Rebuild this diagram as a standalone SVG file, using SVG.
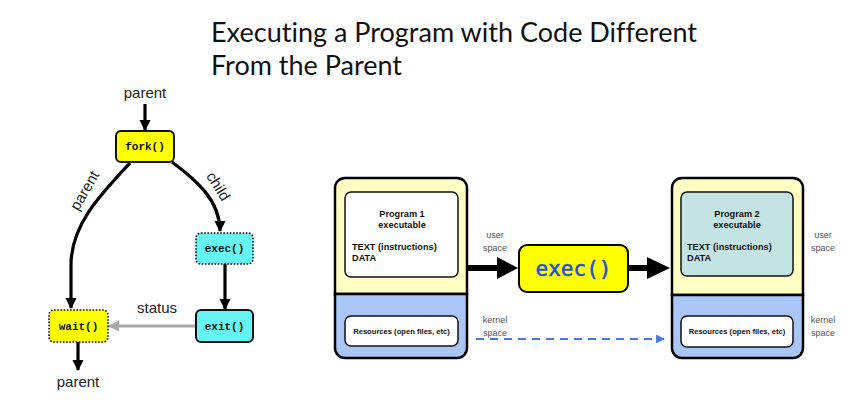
<svg xmlns="http://www.w3.org/2000/svg" width="852" height="405" viewBox="0 0 852 405">
  <defs>
    <style>
      .title { font-family: Lato, "Open Sans", "Liberation Sans", sans-serif; font-size: 27px; fill: #111; font-variant-ligatures: none; font-feature-settings: "liga" 0, "clig" 0; }
      .lbl { font-family: "Liberation Sans", Arial, sans-serif; font-size: 15px; fill: #222; }
      .mono { font-family: "Liberation Mono", "DejaVu Sans Mono", monospace; font-size: 11px; font-weight: bold; fill: #111; text-anchor: middle; }
      .yel { fill: #ffff00; }
      .cyan { fill: #66f5f5; }
      .solid { stroke: #111; stroke-width: 2; }
      .dotted { stroke: #111; stroke-width: 1.6; stroke-dasharray: 1.6 1.6; }
      .flow { fill: none; stroke: #000; stroke-width: 3.2; }
      .small { font-family: "Liberation Sans", Arial, sans-serif; font-weight: bold; fill: #111; }
      .side { font-family: "Liberation Sans", Arial, sans-serif; font-size: 9px; fill: #555; text-anchor: middle; }
      .outer { stroke: #000; stroke-width: 2.5; }
      .inner { stroke: #111; stroke-width: 1.5; }
    </style>
    <marker id="ah" viewBox="0 0 10 10" refX="9" refY="5" markerWidth="3.6" markerHeight="3.6" orient="auto" markerUnits="strokeWidth">
      <path d="M0,0 L10,5 L0,10 z" fill="#000"/>
    </marker>
    <marker id="ahg" viewBox="0 0 10 10" refX="9" refY="5" markerWidth="3.6" markerHeight="3.6" orient="auto" markerUnits="strokeWidth">
      <path d="M0,0 L10,5 L0,10 z" fill="#aaa"/>
    </marker>
    <marker id="ahb" viewBox="0 0 10 10" refX="9" refY="5" markerWidth="4" markerHeight="4" orient="auto" markerUnits="strokeWidth">
      <path d="M0,0 L10,5 L0,10 z" fill="#4a78d8"/>
    </marker>
  </defs>

  <rect width="852" height="405" fill="#fff"/>

  <!-- heading -->
  <text class="title" x="211" y="42" textLength="486" lengthAdjust="spacingAndGlyphs">Executing a Program with Code Different</text>
  <text class="title" x="211" y="75" textLength="191" lengthAdjust="spacingAndGlyphs">From the Parent</text>

  <!-- process lifecycle: connectors -->
  <g id="lifecycle-edges">
    <line class="flow" x1="145" y1="104" x2="145" y2="130" marker-end="url(#ah)"/>
    <path class="flow" d="M130,163 C100,195 71,225 71,265 L71,308" marker-end="url(#ah)"/>
    <path class="flow" d="M172,162 C196,180 220,200 220,231" marker-end="url(#ah)"/>
    <line class="flow" x1="225" y1="264" x2="225" y2="309" marker-end="url(#ah)"/>
    <line fill="none" stroke="#aaa" stroke-width="3.2" x1="196" y1="326" x2="109" y2="326" marker-end="url(#ahg)"/>
    <line class="flow" x1="78" y1="342" x2="78" y2="370" marker-end="url(#ah)"/>
    <text class="lbl" x="145" y="98" text-anchor="middle">parent</text>
    <text class="lbl" text-anchor="middle" transform="translate(89,193) rotate(-60)">parent</text>
    <text class="lbl" text-anchor="middle" transform="translate(214,189) rotate(58)">child</text>
    <text class="lbl" x="157" y="313" text-anchor="middle">status</text>
    <text class="lbl" x="78" y="387" text-anchor="middle">parent</text>
  </g>

  <g id="fork">
    <rect class="yel solid" x="116" y="131" width="58" height="31" rx="5"/>
    <text class="mono" x="145" y="150">fork()</text>
  </g>
  <g id="exec-call">
    <rect class="cyan dotted" x="196" y="233" width="57" height="31" rx="5"/>
    <text class="mono" x="224.5" y="252">exec()</text>
  </g>
  <g id="exit-call">
    <rect class="cyan solid" x="196" y="310" width="57" height="32" rx="5"/>
    <text class="mono" x="224.5" y="330">exit()</text>
  </g>
  <g id="wait-call">
    <rect class="yel dotted" x="49" y="310" width="59" height="32" rx="5"/>
    <text class="mono" x="78.5" y="330">wait()</text>
  </g>

  <!-- address space replacement: connectors -->
  <g id="exec-edges">
    <line stroke="#000" stroke-width="6" x1="467" y1="268" x2="500" y2="268"/>
    <path d="M497,257 L518,268 L497,279 z" fill="#000"/>
    <line stroke="#000" stroke-width="6" x1="628" y1="268" x2="650" y2="268"/>
    <path d="M647,257 L670,268 L647,279 z" fill="#000"/>
    <line stroke="#4a78d8" stroke-width="2.2" stroke-dasharray="8 6" x1="476" y1="339" x2="664" y2="339" marker-end="url(#ahb)"/>
  </g>

  <g id="program1">
    <path class="outer" d="M335,294 V188 a10,10 0 0 1 10,-10 H457 a10,10 0 0 1 10,10 V294 z" fill="#ffffc4"/>
    <path class="outer" d="M335,294 V348 a10,10 0 0 0 10,10 H457 a10,10 0 0 0 10,-10 V294 z" fill="#a9c6f6"/>
    <rect class="inner" x="345" y="192" width="113" height="85" rx="6" fill="#fff"/>
    <text class="small" x="402" y="217" font-size="9.2" text-anchor="middle">Program 1</text>
    <text class="small" x="402" y="228" font-size="9.2" text-anchor="middle">executable</text>
    <text class="small" x="352" y="250" font-size="9.2">TEXT (instructions)</text>
    <text class="small" x="352" y="261" font-size="9.2">DATA</text>
    <rect class="inner" x="345" y="316" width="113" height="30" rx="6" fill="#fff"/>
    <text class="small" x="401.5" y="334" font-size="7.6" text-anchor="middle">Resources (open files, etc)</text>
  </g>

  <g id="exec-box">
    <rect x="519" y="245" width="109" height="47" rx="8" fill="#ffff00" stroke="#000" stroke-width="2"/>
    <text x="573.5" y="276" font-family="'DejaVu Sans Mono', monospace" font-size="21" fill="#1f4fdc" stroke="#1f4fdc" stroke-width="0.5" text-anchor="middle">exec()</text>
  </g>

  <g id="program2">
    <path class="outer" d="M672,295 V188 a10,10 0 0 1 10,-10 H793 a10,10 0 0 1 10,10 V295 z" fill="#ffffc4"/>
    <path class="outer" d="M672,295 V348 a10,10 0 0 0 10,10 H793 a10,10 0 0 0 10,-10 V295 z" fill="#a9c6f6"/>
    <rect class="inner" x="681" y="192" width="112" height="84" rx="6" fill="#c4e4e4"/>
    <text class="small" x="737" y="217" font-size="9.2" text-anchor="middle">Program 2</text>
    <text class="small" x="737" y="228" font-size="9.2" text-anchor="middle">executable</text>
    <text class="small" x="687" y="250" font-size="9.2">TEXT (instructions)</text>
    <text class="small" x="687" y="261" font-size="9.2">DATA</text>
    <rect class="inner" x="681" y="316" width="112" height="31" rx="6" fill="#fff"/>
    <text class="small" x="737" y="334" font-size="7.6" text-anchor="middle">Resources (open files, etc)</text>
  </g>

  <g id="space-labels">
    <text class="side" x="495" y="238">user</text>
    <text class="side" x="495" y="251">space</text>
    <text class="side" x="495" y="323">kernel</text>
    <text class="side" x="495" y="336">space</text>
    <text class="side" x="823" y="238">user</text>
    <text class="side" x="823" y="251">space</text>
    <text class="side" x="823" y="323">kernel</text>
    <text class="side" x="823" y="336">space</text>
  </g>
</svg>
